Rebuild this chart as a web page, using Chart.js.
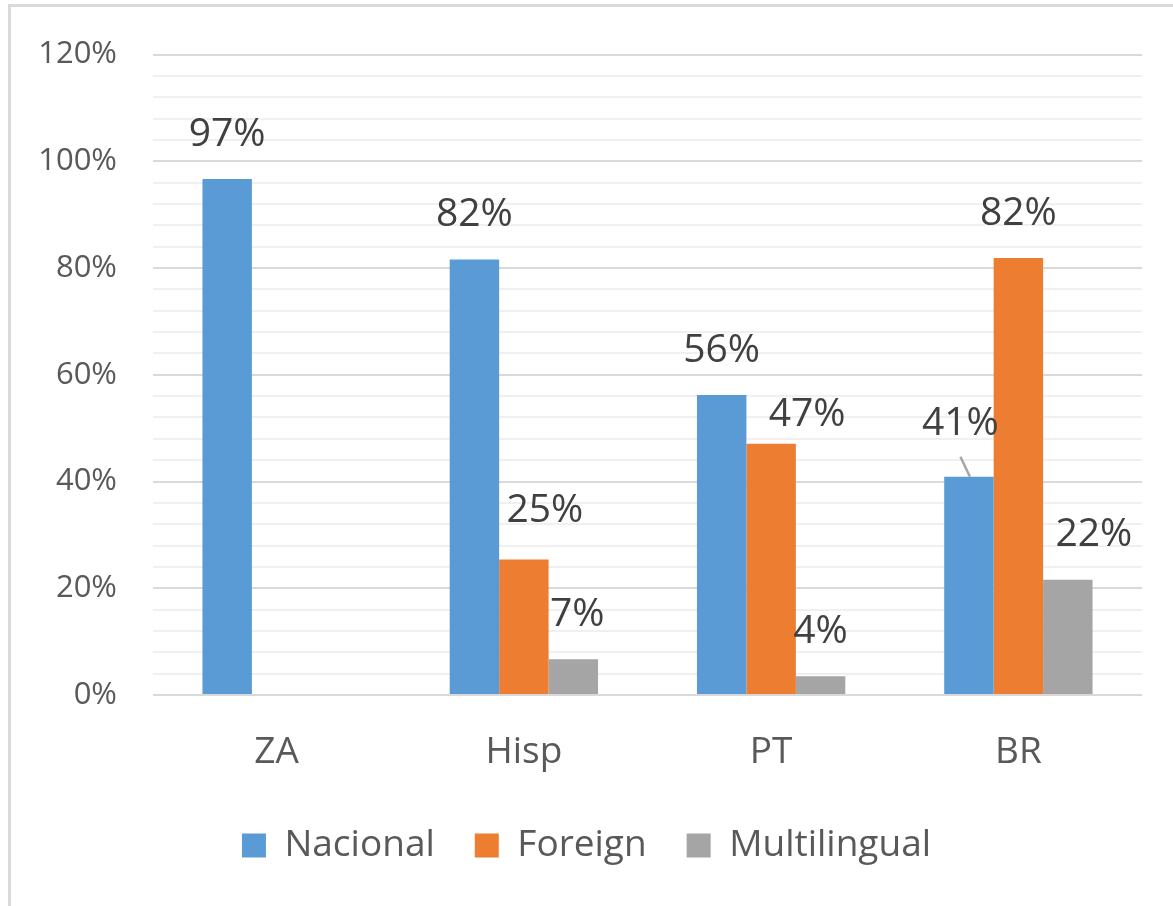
<!DOCTYPE html>
<html><head><meta charset="utf-8">
<script src="https://cdn.jsdelivr.net/npm/chart.js@4/dist/chart.umd.min.js"></script>
<style>
html,body{margin:0;padding:0;background:#fff;}
#wrap{position:relative;width:1173px;height:906px;overflow:hidden;background:#fff;}
#frame{position:absolute;left:8px;top:4px;width:1300px;height:1000px;border-left:3px solid #d9d9d9;border-top:3px solid #d9d9d9;}
canvas{position:absolute;left:0;top:0;}
</style></head><body>
<div id="wrap"><div id="frame"></div><canvas id="c" width="1173" height="906"></canvas></div>
<script>
// ---- data ----
const categories = ['ZA', 'Hisp', 'PT', 'BR'];
const seriesNames = ['Nacional', 'Foreign', 'Multilingual'];
const nacional = [96.7, 81.6, 56.2, 40.9];
const foreign = [0, 25.4, 47.1, 81.9];
const multilingual = [0, 6.7, 3.5, 21.6];
const yTickLabels = [0, 20, 40, 60, 80, 100, 120];

const FONT = "'Open Sans', 'Noto Sans', sans-serif";
const colors = ['#5b9bd5', '#ed7d31', '#a5a5a5'];

const barLabels = {
  id: 'barLabels',
  afterDatasetsDraw(chart, args, opts) {
    const ctx = chart.ctx;
    ctx.save();
    ctx.font = opts.size + 'px ' + FONT;
    ctx.fillStyle = opts.color;
    ctx.textAlign = 'center';
    ctx.textBaseline = 'middle';
    chart.data.datasets.forEach((ds, di) => {
      const meta = chart.getDatasetMeta(di);
      meta.data.forEach((bar, i) => {
        const v = ds.data[i];
        if (!v) return;
        const adj = (opts.adjust[di] && opts.adjust[di][i]) || [0, 0];
        const x = bar.x + adj[0];
        const y = bar.y - opts.offset + adj[1];
        ctx.fillText(Math.round(v) + '%', x, y);
        if (opts.leader && opts.leader[0] === di && opts.leader[1] === i) {
          ctx.save();
          ctx.strokeStyle = '#a6a6a6';
          ctx.lineWidth = 2.5;
          ctx.beginPath();
          ctx.moveTo(x, y + 33);
          ctx.lineTo(bar.x + 1, bar.y);
          ctx.stroke();
          ctx.restore();
        }
      });
    });
    ctx.restore();
  }
};

new Chart(document.getElementById('c'), {
  type: 'bar',
  data: {
    labels: categories,
    datasets: [nacional, foreign, multilingual].map((d, k) => ({
      label: seriesNames[k],
      data: d,
      backgroundColor: colors[k],
      borderWidth: 0,
      categoryPercentage: 0.6,
      barPercentage: 1.0
    }))
  },
  options: {
    responsive: false,
    animation: false,
    layout: { padding: { left: 0, right: 0, top: 52, bottom: 32 } },
    scales: {
      x: {
        afterFit(s) { s.height = 92; },
        grid: { display: false, drawTicks: false },
        border: { display: false },
        ticks: { padding: 35, color: '#595959', font: { family: FONT, size: 37 } }
      },
      y: {
        min: 0, max: 120,
        afterFit(s) { s.width = 153; },
        ticks: {
          stepSize: 4, autoSkip: false, padding: 36, color: '#595959',
          font: { family: FONT, size: 31 },
          callback: v => yTickLabels.includes(v) ? v + '%' : ''
        },
        grid: {
          drawTicks: false, lineWidth: 2,
          color: c => (c.tick && yTickLabels.includes(c.tick.value)) ? '#d9d9d9' : '#f0f0f0'
        },
        border: { display: false }
      },
      yR: {
        position: 'right', display: true,
        afterFit(s) { s.width = 31; },
        grid: { display: false, drawTicks: false },
        border: { display: false },
        ticks: { display: false }
      }
    },
    plugins: {
      legend: {
        position: 'bottom',
        labels: { boxWidth: 24, boxHeight: 24, padding: 40, color: '#595959', font: { family: FONT, size: 37 } }
      },
      tooltip: { enabled: false },
      barLabels: {
        size: 39, color: '#404040', offset: 44.5,
        adjust: { 0: { 3: [-8.5, -8.5] }, 1: { 1: [21, -4], 2: [36, 16] }, 2: { 1: [4, 0], 3: [26, 0] } },
        leader: [0, 3]
      }
    }
  },
  plugins: [barLabels]
});
</script>
</body></html>
